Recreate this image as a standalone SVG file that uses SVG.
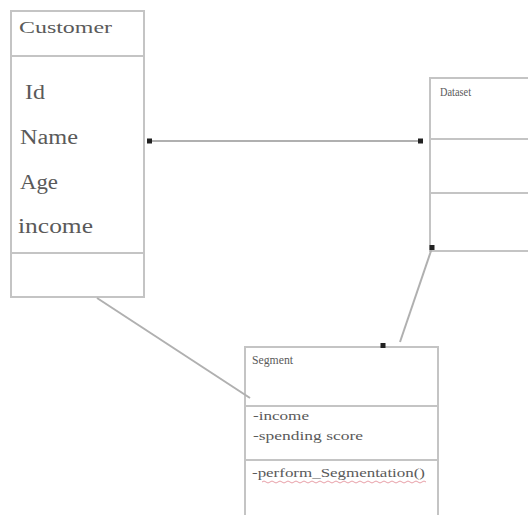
<svg xmlns="http://www.w3.org/2000/svg" width="528" height="515" viewBox="0 0 528 515">
  <style>
    .box { fill: #ffffff; stroke: #c4c4c4; stroke-width: 2; }
    .div { stroke: #c4c4c4; stroke-width: 2; }
    .t { font-family: "Liberation Serif", "DejaVu Serif", serif; fill: #5a5a5a; }
    .big { font-size: 20px; }
    .hdr { font-size: 17px; }
    .sm { font-size: 12px; }
    .link { stroke: #b0b0b0; stroke-width: 2; fill: none; }
    .dot { fill: #222222; }
  </style>
  <rect width="528" height="515" fill="#ffffff"/>

  <g id="customer">
    <rect class="box" x="11" y="11" width="133" height="286"/>
    <line class="div" x1="11" y1="56" x2="144" y2="56"/>
    <line class="div" x1="11" y1="253" x2="144" y2="253"/>
    <text class="t hdr" x="19" y="33" textLength="93" lengthAdjust="spacingAndGlyphs">Customer</text>
    <text class="t big" x="25" y="99" textLength="20" lengthAdjust="spacingAndGlyphs">Id</text>
    <text class="t big" x="20" y="144" textLength="58" lengthAdjust="spacingAndGlyphs">Name</text>
    <text class="t big" x="20" y="189" textLength="38" lengthAdjust="spacingAndGlyphs">Age</text>
    <text class="t big" x="18" y="233" textLength="75" lengthAdjust="spacingAndGlyphs">income</text>
  </g>

  <g id="dataset">
    <rect class="box" x="430" y="78" width="110" height="173"/>
    <line class="div" x1="430" y1="139" x2="540" y2="139"/>
    <line class="div" x1="430" y1="193" x2="540" y2="193"/>
    <text class="t sm" x="440" y="96" textLength="31" lengthAdjust="spacingAndGlyphs">Dataset</text>
  </g>

  <g id="segment">
    <rect class="box" x="245" y="347" width="193" height="180"/>
    <line class="div" x1="245" y1="406" x2="438" y2="406"/>
    <line class="div" x1="245" y1="460" x2="438" y2="460"/>
    <text class="t sm" x="252" y="364" textLength="41" lengthAdjust="spacingAndGlyphs">Segment</text>
    <text class="t sm" x="253" y="420" textLength="56" lengthAdjust="spacingAndGlyphs">-income</text>
    <text class="t sm" x="253" y="440" textLength="110" lengthAdjust="spacingAndGlyphs">-spending score</text>
    <text class="t sm" x="252" y="477" textLength="173" lengthAdjust="spacingAndGlyphs">-perform_Segmentation()</text>
    <path d="M262 482 Q264 480 266 482 T270 482 T274 482 T278 482 T282 482 T286 482 T290 482 T294 482 T298 482 T302 482 T306 482 T310 482 T314 482 T318 482 T322 482 T326 482 T330 482 T334 482 T338 482 T342 482 T346 482 T350 482 T354 482 T358 482 T362 482 T366 482 T370 482 T374 482 T378 482 T382 482 T386 482 T390 482 T394 482 T398 482 T402 482 T406 482 T410 482 T414 482 T418 482 T422 482 T426 482" fill="none" stroke="#e8a0a8" stroke-width="1"/>
  </g>

  <g id="connectors">
    <line class="link" x1="150" y1="141" x2="421" y2="141"/>
    <rect class="dot" x="147" y="138.5" width="5" height="5"/>
    <rect class="dot" x="418" y="138.5" width="5" height="5"/>
    <line class="link" x1="432" y1="248" x2="400" y2="342"/>
    <rect class="dot" x="429.5" y="245" width="5" height="5"/>
    <rect class="dot" x="380.5" y="343" width="5" height="5"/>
    <line class="link" x1="97" y1="298" x2="250" y2="398" stroke="#cccccc"/>
  </g>
</svg>
